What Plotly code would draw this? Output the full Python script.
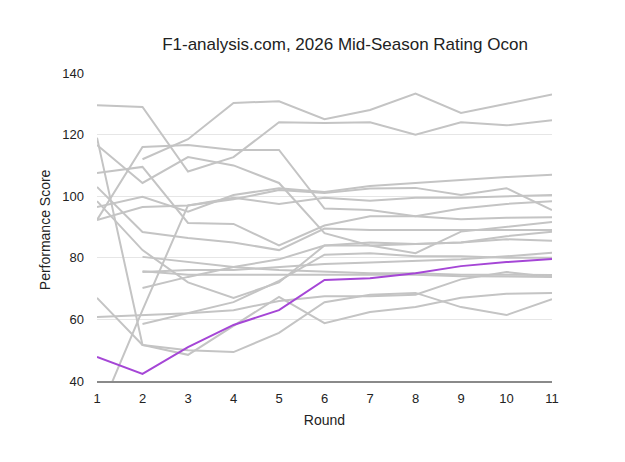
import plotly.graph_objects as go

rounds = [1, 2, 3, 4, 5, 6, 7, 8, 9, 10, 11]

# Other drivers (grey), None = did not race that round
driver_a = [129.5, 129, 108, 112.7, 124, 123.8, 124, 120, 124, 123, 124.7]
driver_b = [None, 112, 118.5, 130.3, 130.8, 125, 128, 133.3, 127, 130, 133]
driver_c = [119, 51.7, 48.5, 58, 67.3, 58.8, 62.4, 64, 67, 68.3, 68.6]
driver_d = [67, 51.7, 50, 49.4, 55.6, 65.6, 68, 68.6, 64, 61.4, 66.6]
driver_e = [92.3, 116, 116.6, 115, 115, 96, 95.5, 93.5, 92.5, 93, 93.2]
driver_f = [116.6, 104.3, 112.7, 110, 104.3, 88, 84, 81.5, 88.5, 90, 91.6]
driver_g = [28, 63, 97, 99, 102, 101, 102.5, 102.7, 100.4, 102.6, 95.5]
driver_h = [96.5, 99.8, 95, 100.4, 102.6, 101.4, 103.3, 104.3, 105.3, 106.2, 107]
driver_i = [92.3, 96.5, 97, 99.5, 97.5, 99.5, 98.5, 99.5, 99.5, 100, 100.4]
driver_j = [107.5, 109.5, 91.3, 91, 84, 90.5, 93.5, 93.5, 96, 97.5, 98.4]
driver_k = [103, 88.4, 86.4, 85, 82.5, 89.5, 89, 89, 89, 89, 89]
driver_l = [98.4, 82.5, 72, 67, 72, 84, 85, 84.5, 85, 86, 85.5]
driver_m = [60.8, 61.3, 62, 63, 66, 67.5, 67.5, 68, 73, 75.4, 73.8]
driver_n = [None, 80.3, 78.6, 77, 76, 75.5, 75, 75, 74.5, 74.5, 74.4]
driver_o = [None, 75.4, 76, 76, 77, 78, 78.5, 79, 79.5, 80.5, 81.6]
driver_p = [None, 75.6, 74.5, 74.5, 74.5, 74.5, 74.5, 74.5, 74, 74, 73.8]
driver_q = [None, 70.2, 73.8, 77, 79.5, 84, 84, 84.5, 85, 87, 88.5]
driver_r = [None, 58.5, 62, 65.6, 72.5, 81, 81.5, 80.5, 80.5, 80, 80]

ocon = [47.8, 42.3, 51, 58.2, 63, 72.8, 73.4, 75, 77.3, 78.6, 79.6]

others = [driver_a, driver_b, driver_c, driver_d, driver_e, driver_f, driver_g,
          driver_h, driver_i, driver_j, driver_k, driver_l, driver_m, driver_n,
          driver_o, driver_p, driver_q, driver_r]

fig = go.Figure()
for vals in others:
    fig.add_trace(go.Scatter(x=rounds, y=vals, mode="lines",
                             line=dict(color="#c4c4c4", width=2),
                             showlegend=False, hoverinfo="skip"))
fig.add_trace(go.Scatter(x=rounds, y=ocon, mode="lines", name="Ocon",
                         line=dict(color="#a546d6", width=2),
                         showlegend=False))

font = "Liberation Sans, Arial, Helvetica, sans-serif"
fig.update_layout(
    width=625, height=462,
    margin=dict(l=97, r=73, t=73, b=81),
    paper_bgcolor="white", plot_bgcolor="white",
    font=dict(family=font, size=14, color="#222"),
    title=dict(text="F1-analysis.com, 2026 Mid-Season Rating Ocon",
               x=0.552, xanchor="center", y=0.905, yanchor="middle",
               font=dict(size=17, color="#222")),
    xaxis=dict(range=[1, 11], dtick=1, showgrid=False, zeroline=False,
               showline=True, linecolor="#8a8a8a", linewidth=1.5,
               ticks="", ticklabelstandoff=5, tickfont=dict(size=13),
               title=dict(text="Round", standoff=10, font=dict(size=14))),
    yaxis=dict(range=[40, 140], dtick=20, showgrid=True, gridcolor="#e6e6e6",
               gridwidth=1, zeroline=False, showline=False, ticks="",
               ticklabelstandoff=12, tickfont=dict(size=13)),
    annotations=[dict(text="Performance Score", xref="paper", yref="paper",
                      x=-0.114, y=0.49, xanchor="center", yanchor="middle",
                      textangle=-90, showarrow=False,
                      font=dict(size=14, color="#222"))],
)

fig.write_html("out.html")
